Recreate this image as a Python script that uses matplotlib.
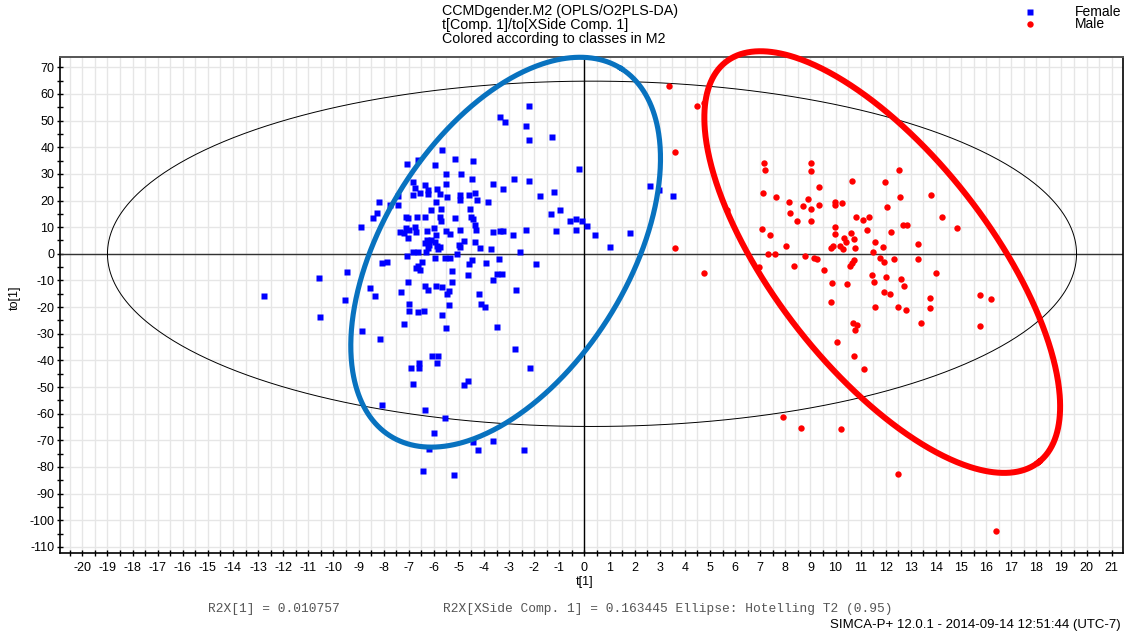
import numpy as np
import matplotlib
matplotlib.use("Agg")
import matplotlib.pyplot as plt
from matplotlib.path import Path
from matplotlib.lines import Line2D
from matplotlib.ticker import FixedLocator, MultipleLocator

plt.rcParams['font.family'] = ['Liberation Sans', 'DejaVu Sans']

# Scores: t[1] (predictive) and to[1] (orthogonal)
female_t = [
    -2.20, -3.36, -3.16, -2.32, -2.22, -1.29, -5.67, -5.15, -4.43, -7.06,
    -6.64, -5.95, -0.21, -5.51, -4.91, -4.46, -3.64, -2.80, -2.20, -6.82,
    -6.35, -5.51, -6.76, -6.24, -5.87, -6.57, -6.24, -6.81, -5.75, -5.47,
    -4.96, -4.95, -4.59, -4.35, -4.27, -3.84, -3.24, -1.76, -1.21, -7.42,
    -8.18, -7.75, -7.42, -8.26, -8.42, -8.90, -5.91, -6.11, -5.71, -4.55,
    -7.12, -7.04, -6.67, -6.35, -5.75, -5.71, -5.15, -4.51, -4.43, -4.35,
    -4.31, -7.10, -6.75, -6.97, -7.34, -7.18, -6.71, -6.27, -5.99, -5.51,
    -5.35, -4.95, -5.91, -7.02, -3.64, -3.36, -3.24, -2.84, -2.32, -1.13,
    -1.33, -0.97, -0.57, -0.33, -0.10, 0.11, -0.33, 0.43, 1.02, -6.28,
    -6.12, -5.95, -6.35, -6.19, -5.88, -5.75, -4.99, -4.95, -4.79, -4.35,
    -4.16, -3.72, -6.24, -5.83, -6.82, -6.64, -6.31, -2.56, -7.06, -5.95,
    -5.55, -5.35, -5.07, -8.06, -7.86, -6.47, -6.71, -6.64, -6.55, -5.27,
    -4.63, -4.47, -4.59, -3.92, -3.40, -3.47, -3.28, -3.64, -1.92, -9.45,
    -10.57, -7.02, -6.35, -5.91, -5.67, -5.27, -8.54, -2.72, -6.23, -5.39,
    -7.30, -5.47, -4.20, -12.76, -9.53, -8.34, -6.98, -5.39, -4.12, -3.96,
    -6.98, -6.63, -6.40, -5.67, -10.53, -7.20, -3.48, -5.51, -8.87, -8.14,
    -2.76, -6.06, -5.83, -5.88, -6.59, -6.59, -6.90, -2.18, -6.82, -4.63,
    -4.79, -8.06, -6.35, -5.55, -5.99, -4.43, -3.64, -4.24, -2.40, -6.19,
    -6.43, -5.19, 2.62, 2.98, 3.53, 1.82,
]
female_to = [
    55.3, 51.2, 49.3, 47.8, 42.6, 43.7, 38.8, 35.4, 34.7, 33.6,
    35.3, 33.2, 31.7, 29.8, 29.8, 27.9, 26.1, 27.9, 27.2, 26.8,
    25.7, 26.1, 24.6, 23.9, 24.2, 22.9, 22.3, 21.9, 22.3, 21.2,
    21.9, 20.2, 21.9, 22.7, 20.1, 19.3, 24.2, 21.6, 23.1, 21.7,
    19.3, 18.5, 18.5, 15.5, 13.3, 9.9, 19.3, 16.3, 16.7, 17.0,
    14.0, 13.3, 13.7, 14.0, 14.0, 12.2, 13.3, 13.7, 12.9, 10.7,
    8.8, 9.5, 9.9, 8.8, 8.0, 7.7, 8.0, 8.4, 9.5, 8.4,
    7.3, 8.8, 6.9, 5.8, 8.0, 8.4, 8.4, 6.9, 8.8, 8.4,
    14.8, 16.3, 12.2, 12.9, 12.5, 10.3, 8.8, 6.9, 2.4, 5.0,
    5.0, 4.3, 3.9, 3.2, 2.9, 2.6, 3.2, 2.4, 4.7, 4.3,
    2.0, 1.7, 2.0, 1.7, 0.5, 0.5, 0.5, 0.5, -1.0, -1.4,
    -1.4, -1.4, -0.2, -3.6, -3.2, -3.2, -5.5, -4.5, -6.2, -6.6,
    -8.1, -2.5, -4.0, -3.6, -2.1, -7.4, -7.4, -10.0, -4.0, -7.0,
    -9.2, -10.7, -12.2, -11.9, -12.6, -10.7, -13.0, -13.4, -13.4, -14.1,
    -14.5, -15.2, -14.9, -16.0, -17.5, -16.0, -19.0, -19.4, -19.0, -19.8,
    -21.3, -22.0, -21.3, -22.8, -23.9, -26.5, -27.3, -28.0, -28.8, -32.1,
    -35.9, -38.5, -38.5, -40.8, -40.8, -42.7, -42.7, -42.7, -48.7, -47.9,
    -49.4, -56.6, -58.8, -61.8, -67.1, -70.8, -70.1, -73.8, -73.8, -73.1,
    -81.7, -83.2, 25.4, 23.9, 21.7, 7.8,
]
male_t = [
    3.37, 4.50, 4.78, 3.60, 7.15, 7.20, 9.03, 9.03, 12.54, 10.65,
    11.99, 9.35, 7.11, 7.64, 13.80, 12.57, 8.14, 8.90, 8.69, 9.03,
    9.35, 9.96, 9.96, 10.25, 12.05, 8.18, 8.45, 9.03, 10.82, 11.09,
    11.33, 14.24, 12.67, 12.84, 14.82, 7.07, 7.37, 9.98, 9.98, 10.60,
    11.24, 12.22, 10.32, 10.43, 10.72, 11.59, 8.04, 9.90, 9.83, 10.19,
    10.29, 10.78, 11.91, 13.29, 3.60, 7.32, 7.60, 8.80, 9.14, 9.26,
    11.50, 11.79, 11.95, 12.31, 13.29, 8.35, 10.75, 10.65, 10.59, 6.95,
    9.56, 4.78, 11.46, 12.03, 12.61, 14.00, 5.66, 9.84, 10.47, 11.54,
    12.71, 9.80, 11.94, 12.18, 11.59, 12.49, 12.80, 13.75, 13.78, 15.76,
    16.18, 15.76, 10.69, 10.84, 10.78, 13.39, 10.07, 10.73, 11.14, 7.92,
    8.63, 10.20, 12.49, 16.39,
]
male_to = [
    63.1, 55.5, 56.5, 38.2, 34.1, 31.5, 34.1, 31.2, 31.3, 27.2,
    26.8, 24.9, 22.7, 21.4, 22.0, 21.2, 19.5, 20.5, 18.0, 16.8,
    18.3, 19.3, 18.5, 18.9, 17.4, 15.5, 12.3, 12.3, 13.7, 12.7,
    13.7, 13.7, 10.8, 10.8, 9.5, 9.2, 7.0, 9.9, 7.3, 7.9,
    8.9, 8.3, 5.8, 4.3, 5.4, 4.5, 2.9, 2.9, 2.0, 2.9,
    1.7, 2.3, 2.6, 3.5, 2.3, -0.2, -0.2, -0.9, -1.5, -2.1,
    0.6, -1.5, -3.1, -2.1, -2.1, -4.4, -2.5, -3.6, -4.6, -5.1,
    -6.2, -7.1, -8.1, -8.7, -9.4, -7.1, 16.4, -11.0, -11.3, -10.7,
    -11.9, -18.2, -14.5, -15.1, -20.1, -19.8, -21.0, -16.6, -20.4, -15.6,
    -17.0, -27.0, -26.1, -26.7, -28.7, -26.0, -33.0, -38.4, -43.3, -61.3,
    -65.2, -65.8, -82.5, -104.2,
]

x_ticks = list(range(-20, 22))
y_ticks = list(range(-110, 71, 10))

# Hotelling T2 (0.95) ellipse: centre and semi-axes in score units
t2_center = (0.3, 0.0)
t2_t, t2_to = 19.3, 64.8

W, H = 1126, 636
fig = plt.figure(figsize=(W / 100, H / 100), dpi=100)
ax = fig.add_axes([60 / W, 1 - 553.3 / H, 1063 / W, 496 / H])
ax.set_xlim(-20.89, 21.45)
ax.set_ylim(-112.4, 73.75)

# grid & ticks
ax.xaxis.set_major_locator(FixedLocator(x_ticks))
ax.xaxis.set_minor_locator(MultipleLocator(0.5))
ax.yaxis.set_major_locator(FixedLocator(y_ticks))
ax.yaxis.set_minor_locator(MultipleLocator(5))
ax.grid(which='both', axis='x', color='#e6e6e6', lw=1.0, zorder=0)
ax.grid(which='major', axis='y', color='#e6e6e6', lw=1.0, zorder=0)
ax.set_axisbelow(True)
ax.tick_params(which='both', direction='inout', length=5, width=1,
               color='black', top=False, right=False)
ax.tick_params(axis='both', labelsize=9)
ax.tick_params(axis='y', pad=1.5)
ax.tick_params(axis='x', pad=4)
ax.set_yticklabels([str(v) for v in y_ticks])
ax.set_xticklabels([str(v) for v in x_ticks])
for side in ['left', 'bottom', 'right']:
    ax.spines[side].set_color('black')
    ax.spines[side].set_linewidth(1.2)
ax.spines['top'].set_color('#555555')
ax.spines['top'].set_linewidth(1.4)

# zero lines and Hotelling ellipse
ax.axhline(0, color='#333333', lw=1.0, zorder=1)
ax.axvline(0, color='black', lw=1.0, zorder=1)
th = np.linspace(0, 2 * np.pi, 600)
ax.plot(t2_center[0] + t2_t * np.cos(th), t2_center[1] + t2_to * np.sin(th),
        color='black', lw=0.7, zorder=1)

# score points
rect = Path([(-1, -0.85), (1, -0.85), (1, 0.85), (-1, 0.85), (-1, -0.85)],
            [Path.MOVETO, Path.LINETO, Path.LINETO, Path.LINETO, Path.CLOSEPOLY])
h_f, = ax.plot(female_t, female_to, ls='none', marker=rect, ms=5.0,
               mfc='#0000ff', mec='none', zorder=3)
h_m, = ax.plot(male_t, male_to, ls='none', marker='o', ms=4.6,
               mfc='#ff0000', mec='none', zorder=3)

# hand-drawn group outlines (sizes in pixels, centres in score units)
sx = ax.transData.transform((1, 0))[0] - ax.transData.transform((0, 0))[0]
sy = ax.transData.transform((0, 1))[1] - ax.transData.transform((0, 0))[1]


def outline(cx, cy, a_px, b_px, angle_deg):
    ang = np.deg2rad(angle_deg)
    px = a_px * np.cos(th) * np.cos(ang) - b_px * np.sin(th) * np.sin(ang)
    py = a_px * np.cos(th) * np.sin(ang) + b_px * np.sin(th) * np.cos(ang)
    return cx + px / sx, cy + py / sy


bx, by = outline(-3.14, 0.6, 217, 122, 57.9)
ax.plot(bx, by, color='#0872bf', lw=3.7, clip_on=False, zorder=5)
rx, ry = outline(11.86, -3.1, 254, 107.6, -52)
ax.plot(rx, ry, color='#ff0000', lw=4.3, clip_on=False, zorder=5)

# axis labels
ax.set_xlabel('t[1]', fontsize=9)
ax.xaxis.set_label_coords((585 - 60) / 1063, (553.3 - 582) / 496)
ax.xaxis.label.set_va('center')
ax.set_ylabel('to[1]', fontsize=9)
ax.yaxis.set_label_coords((15 - 60) / 1063, (553.3 - 298) / 496)
ax.yaxis.label.set_va('center')

# header
header = ['CCMDgender.M2 (OPLS/O2PLS-DA)',
          't[Comp. 1]/to[XSide Comp. 1]',
          'Colored according to classes in M2']
for line, ypx in zip(header, [10.5, 25, 39.5]):
    fig.text(442 / W, 1 - ypx / H, line, fontsize=10.3, ha='left', va='center')

# legend
for handle, label, ypx in [(h_f, 'Female', 12), (h_m, 'Male', 24.3)]:
    fig.add_artist(Line2D([1030 / W], [1 - ypx / H], transform=fig.transFigure,
                          ls='none', marker=handle.get_marker(),
                          ms=handle.get_markersize(),
                          mfc=handle.get_markerfacecolor(), mec='none'))
    fig.text(1075 / W, 1 - ypx / H, label, fontsize=10, ha='left', va='center')

# footer
fig.text(208 / W, 1 - 609 / H, 'R2X[1] = 0.010757', family='Liberation Mono',
         fontsize=9.3, color='#555555', ha='left', va='center')
fig.text(443 / W, 1 - 609 / H,
         'R2X[XSide Comp. 1] = 0.163445 Ellipse: Hotelling T2 (0.95)',
         family='Liberation Mono', fontsize=9.3, color='#555555',
         ha='left', va='center')
fig.text(1121 / W, 1 - 625 / H,
         'SIMCA-P+ 12.0.1 - 2014-09-14 12:51:44 (UTC-7)',
         fontsize=9.5, ha='right', va='center')

fig.savefig('out.png', dpi=100)
